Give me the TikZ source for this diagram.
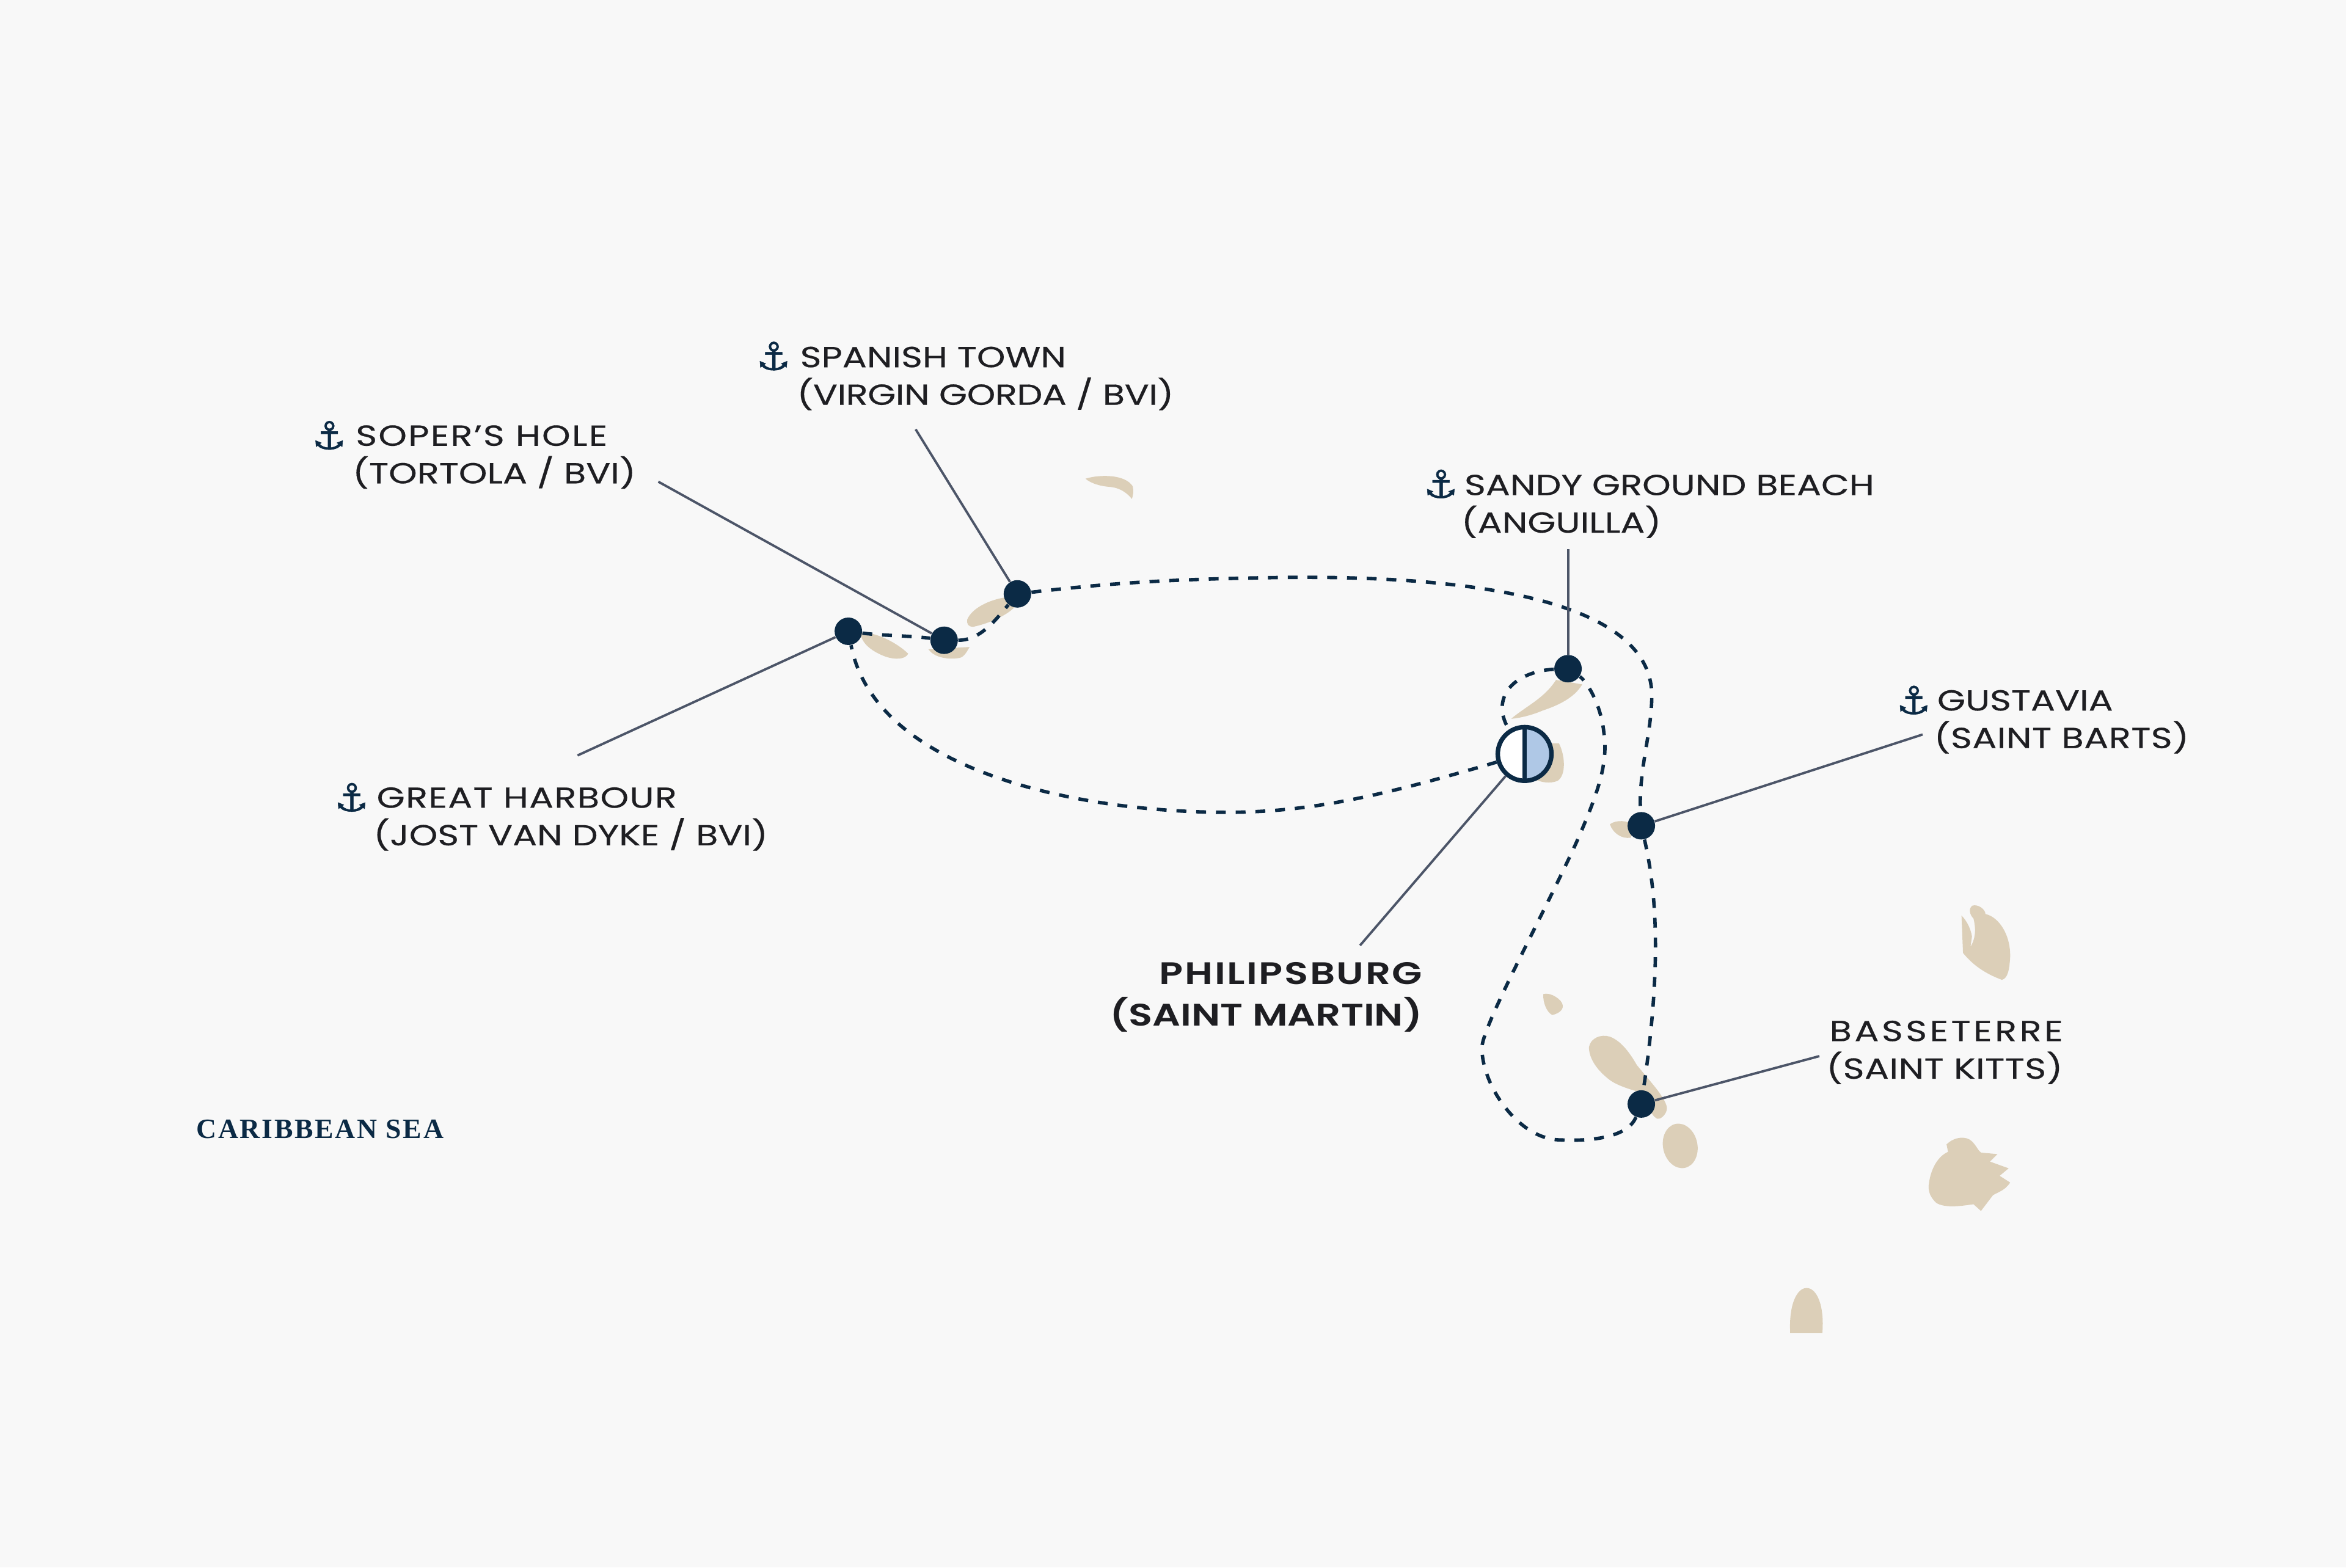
\documentclass[tikz,border=0pt]{standalone}
\usepackage{fontspec}
\setmainfont{Poppins}
\newfontfamily\labelfont[FakeStretch=1.25,FakeBold=0.35]{Poppins}
\newfontfamily\mainportfont[FakeStretch=1.26]{Poppins SemiBold}
\newfontfamily\anchorfont[FakeBold=0.8]{DejaVu Sans}
\newfontfamily\seafont[LetterSpace=6]{Liberation Serif}
\newcommand{\lsp}[2]{{\addfontfeature{LetterSpace=#1}#2}}
\newcommand{\pback}{\hspace*{-1.5pt}}
\definecolor{bgc}{HTML}{F8F8F8}
\definecolor{island}{HTML}{DCCFB8}
\definecolor{navy}{HTML}{0B2A45}
\definecolor{leader}{HTML}{4C5568}
\definecolor{ink}{HTML}{1E1E22}
\definecolor{halfblue}{HTML}{AFC8E6}
\tikzset{
  stopdot/.style={circle,fill=navy,inner sep=0pt,minimum size=12.8pt},
  route/.style={navy,line width=1.6pt,dash pattern=on 4.6pt off 4.6pt},
  leaderline/.style={leader,line width=1.1pt},
  land/.style={fill=island,draw=none},
  place/.style={anchor=west,align=left,text=ink,font=\labelfont\fontsize{13.5}{17.5}\selectfont,inner sep=0pt},
  anchoricon/.style={text=navy,font=\anchorfont\fontsize{18}{18}\selectfont,inner sep=0pt},
}
\begin{document}
\begin{tikzpicture}[x=0.02449cm,y=-0.02449cm]
\fill[bgc] (0,0) rectangle (1568,1047.8);
\useasboundingbox (0,0) rectangle (1568,1047.8);
% islands
\fill[land] (725.5,320) .. controls (735,317) and (752,317) .. (757,325) .. controls (758,329) and (757,332) .. (756.5,333.5) .. controls (752,328) and (747,326) .. (742,325.5) .. controls (735,325) and (729,323) .. (725.5,320) -- cycle;
\fill[land] (646.5,414) .. controls (650,406) and (662,401) .. (671,399.5) -- (678,406) .. controls (672,412) and (660,417) .. (650.5,419) .. controls (647,419) and (646,417) .. (646.5,414) -- cycle;
\fill[land] (620.5,434) -- (648,432.5) .. controls (646,436) and (644,440) .. (640,440) .. controls (632,441) and (624,439) .. (620.5,434) -- cycle;
\fill[land] (575,423) .. controls (585,422) and (600,430) .. (607,437) .. controls (605,441) and (598,441) .. (592,439) .. controls (584,436) and (576,431) .. (575,423) -- cycle;
\fill[land] (1010,480.5) .. controls (1020,472) and (1032,467) .. (1040,454.5) -- (1057.5,457.5) .. controls (1052,467) and (1040,472) .. (1031,475) .. controls (1024,478) and (1016,480) .. (1010,480.5) -- cycle;
\fill[land] (1034,497) -- (1042,497) .. controls (1046,505) and (1047,518) .. (1041,522) .. controls (1036,524) and (1030,523) .. (1026,521) -- cycle;
\fill[land] (1076,551) .. controls (1080,548) and (1088,548) .. (1092,552) -- (1090,560) .. controls (1084,561) and (1078,557) .. (1076,551) -- cycle;
\fill[land] (1031.5,664.5) .. controls (1036,663) and (1044,668) .. (1044.5,672) .. controls (1045,676) and (1040,678) .. (1037.5,678.5) .. controls (1034,677) and (1031,670) .. (1031.5,664.5) -- cycle;
\fill[land] (1062,700) .. controls (1063,694) and (1070,691) .. (1076,693) .. controls (1084,696) and (1090,705) .. (1094,712) -- (1104,724) .. controls (1109,730) and (1115,738) .. (1114,742) .. controls (1113,746) and (1109,749) .. (1107,747.5) .. controls (1102,744) and (1100,735) .. (1096,730) .. controls (1088,728) and (1080,725) .. (1076,722) .. controls (1068,716) and (1062,708) .. (1062,700) -- cycle;
\fill[land,rotate around={12:(1123,766)}] (1123,766) ellipse [x radius=11.5,y radius=15];
\fill[land] (1196.5,891) .. controls (1195.5,872) and (1201,861) .. (1207.5,861) .. controls (1214,861) and (1219.5,872) .. (1218,891) -- cycle;
\fill[land,even odd rule] (1318,605.5) .. controls (1322,604) and (1327,608) .. (1327,611) .. controls (1336,613) and (1344,625) .. (1343.5,640) .. controls (1343,648) and (1342,654) .. (1338,655) .. controls (1330,652) and (1320,647) .. (1312,637) -- (1311,612) .. controls (1314,615) and (1317,620) .. (1318,626) -- (1317,633) .. controls (1320,628) and (1321,622) .. (1319,614) .. controls (1316,611) and (1316,607) .. (1318,605.5) -- cycle;
\fill[land] (1289,793) .. controls (1290,782) and (1295,773) .. (1302,770) -- (1301,765) .. controls (1306,760) and (1314,759) .. (1318,763) .. controls (1321,766) and (1322,769) .. (1324,770.5) -- (1335,771.5) -- (1330,776.5) -- (1342.5,781) -- (1336.5,786) -- (1343.5,790.5) .. controls (1340,796) and (1335,797) .. (1332,799) -- (1324,809.5) -- (1319,805) .. controls (1312,806) and (1300,808) .. (1294,804) .. controls (1291,801) and (1289,798) .. (1289,793) -- cycle;
% stops
\node[stopdot] (GH) at (567,422) {};
\node[stopdot] (SH) at (631,428) {};
\node[stopdot] (ST) at (680,397) {};
\node[stopdot] (SG) at (1048,447) {};
\node[stopdot] (GU) at (1097,552) {};
\node[stopdot] (BA) at (1097,738) {};
\node[circle,draw=navy,line width=2.1pt,minimum size=25pt,inner sep=0pt,fill=white,
  path picture={\fill[halfblue] (path picture bounding box.north) rectangle (path picture bounding box.south east);
  \draw[navy,line width=2.1pt] (path picture bounding box.north) -- (path picture bounding box.south);}] (PH) at (1019,504) {};
% route
\draw[route] (PH) .. controls (930,530) and (880,543) .. (820,543) .. controls (720,543) and (585,515) .. (GH);
\draw[route] (GH) .. controls (590,425) and (610,425) .. (SH);
\draw[route] (SH) .. controls (655,428) and (665,415) .. (ST);
\draw[route] (ST) .. controls (740,390) and (780,387) .. (860,386) .. controls (960,385) and (1104,395) .. (1104,465) .. controls (1104,490) and (1095,515) .. (GU);
\draw[route] (GU) .. controls (1108,600) and (1110,650) .. (BA);
\draw[route] (BA) .. controls (1088,760) and (1065,763) .. (1043,762) .. controls (1015,762) and (990,725) .. (990.5,700) .. controls (991,685) and (1035,605) .. (1055,560) .. controls (1068,530) and (1075,510) .. (1072,490) .. controls (1070,470) and (1060,455) .. (SG);
\draw[route] (SG) .. controls (1025,448) and (1003,455) .. (1004,475) .. controls (1005,482) and (1007,485) .. (PH);
% leader ends
\coordinate (lST) at (612,287);
\coordinate (lSH) at (440,322);
\coordinate (lGH) at (386,505);
\coordinate (lSG) at (1048,367);
\coordinate (lGU) at (1285,491);
\coordinate (lBA) at (1216,706);
\coordinate (lPH) at (909,632);
\draw[leaderline] (lST) -- (ST);
\draw[leaderline] (lSH) -- (SH);
\draw[leaderline] (lGH) -- (GH);
\draw[leaderline] (lSG) -- (SG);
\draw[leaderline] (lGU) -- (GU);
\draw[leaderline] (lBA) -- (BA);
\draw[leaderline] (lPH) -- (PH);
% labels
\node[place] (tST) at (534.5,253) {SPANISH TOWN\\\pback{}\lsp{-1}{(VIRGIN GORDA / BVI)}};
\node[place] (tSH) at (237.5,305.5) {\lsp{4.7}{SOPER’S HOLE}\\\pback{}(TORTOLA / BVI)};
\node[place] (tSG) at (978.5,338.5) {SANDY GROUND BEACH\\\pback{}(ANGUILLA)};
\node[place] (tGU) at (1294.5,482.5) {GUSTAVIA\\\pback{}\lsp{1}{(SAINT BARTS)}};
\node[place] (tGH) at (251.5,547.5) {\lsp{2.8}{GREAT HARBOUR}\\\pback{}(JOST VAN DYKE / BVI)};
\node[place] (tBA) at (1222.5,703.5) {\lsp{9.5}{BASSETERRE}\\\pback{}\lsp{1}{(SAINT KITTS)}};
\node[anchor=east,align=right,text=ink,inner sep=0pt,font=\mainportfont\fontsize{14.5}{19.4}\selectfont] (tPH) at (951,666.5) {\lsp{5}{PHILIPSBURG}\\(SAINT MARTIN)};
\node[anchoricon] (aST) at (517,238) {⚓};
\node[anchoricon] (aSH) at (220,291) {⚓};
\node[anchoricon] (aSG) at (963,323.5) {⚓};
\node[anchoricon] (aGU) at (1279,468) {⚓};
\node[anchoricon] (aGH) at (235,533) {⚓};
\node[anchor=west,inner sep=0pt,text=navy,font=\seafont\bfseries\fontsize{13}{13}\selectfont] (sea) at (131,755) {CARIBBEAN SEA};
\end{tikzpicture}
\end{document}
